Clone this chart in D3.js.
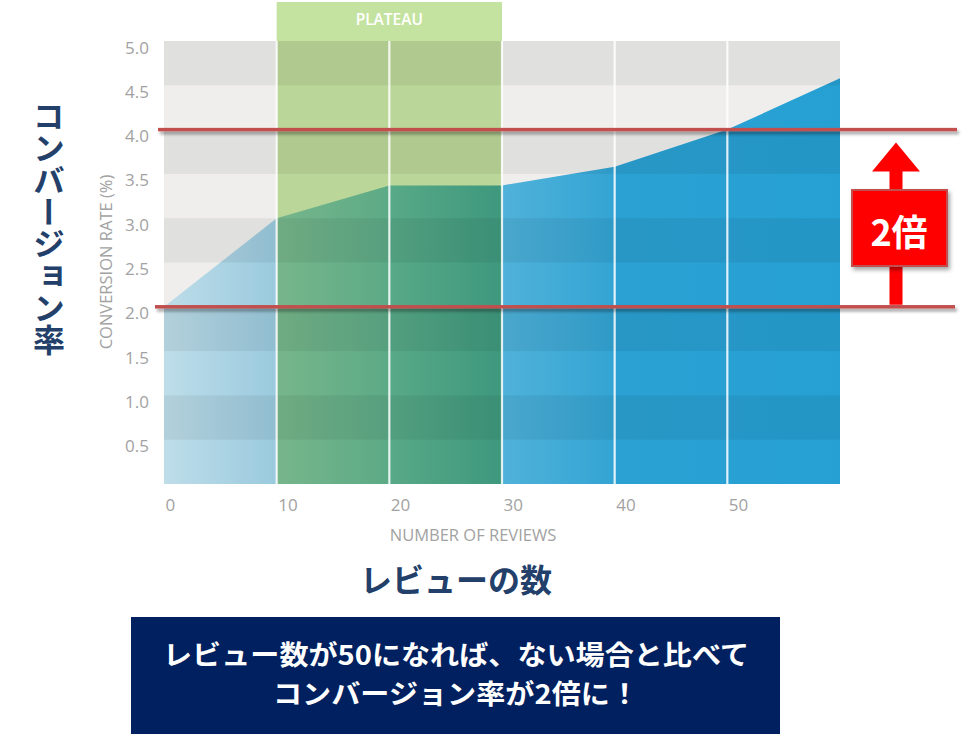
<!DOCTYPE html>
<html>
<head>
<meta charset="utf-8">
<script src="https://cdn.jsdelivr.net/npm/d3@7"></script>
<style>
  html, body { margin: 0; padding: 0; background: #ffffff; }
  svg { display: block; }
</style>
</head>
<body>
<svg id="chart" width="966" height="734"></svg>
<script>
// ---- data ----
const reviewCounts = [0, 10, 20, 30, 40, 50, 60];
const conversionRates = [2.0, 3.0, 3.37, 3.37, 3.58, 4.0, 4.58];
const yTickValues = [0.5, 1.0, 1.5, 2.0, 2.5, 3.0, 3.5, 4.0, 4.5, 5.0];
const xTickValues = [0, 10, 20, 30, 40, 50];
const gridXValues = [10, 20, 30, 40, 50];
const plateauRange = [10, 30];
const referenceRates = [2.0, 4.0];
const darkBands = [[0.5, 1.0], [1.5, 2.0], [2.5, 3.0], [3.5, 4.0], [4.5, 5.0]];
const labels = {
  plateau: "PLATEAU",
  xTitle: "NUMBER OF REVIEWS",
  yTitle: "CONVERSION RATE (%)",
  jpY: "コンバージョン率",
  jpX: "レビューの数",
  badge: "2倍"
};
const noteLines = ["レビュー数が50になれば、ない場合と比べて", "コンバージョン率が2倍に！"];

const svg = d3.select("#chart");
const x = d3.scaleLinear().domain([0, 60]).range([164, 840]);
const y = d3.scaleLinear().domain([0, 5]).range([484, 41]);
const latin = "'Open Sans', 'DejaVu Sans', sans-serif";
const jp = "'Noto Sans CJK JP', 'Noto Sans', sans-serif";

const defs = svg.append("defs");
// area gradient (per-column shading)
const grad = defs.append("linearGradient").attr("id", "areaGrad")
  .attr("gradientUnits", "userSpaceOnUse")
  .attr("x1", x(0)).attr("x2", x(60)).attr("y1", 0).attr("y2", 0);
const off = v => (v / 60);
[
  [0, "#bedde9"], [9.99, "#9acade"],
  [10.01, "#77b68b"], [19.99, "#5caa86"],
  [20.01, "#58a987"], [29.99, "#3e987d"],
  [30.01, "#50b2d9"], [39.99, "#33a4d4"],
  [40.01, "#2ba1d3"], [60, "#26a0d3"]
].forEach(([v, c]) => grad.append("stop").attr("offset", off(v)).attr("stop-color", c));

const shadow = defs.append("filter").attr("id", "shadow")
  .attr("filterUnits", "userSpaceOnUse")
  .attr("x", 0).attr("y", 0).attr("width", 966).attr("height", 734);
shadow.append("feDropShadow").attr("dx", 2).attr("dy", 3).attr("stdDeviation", 1.6)
  .attr("flood-color", "#000").attr("flood-opacity", 0.35);
const shadow2 = defs.append("filter").attr("id", "shadow2")
  .attr("x", "-20%").attr("y", "-20%").attr("width", "150%").attr("height", "150%");
shadow2.append("feDropShadow").attr("dx", 2).attr("dy", 3).attr("stdDeviation", 2)
  .attr("flood-color", "#000").attr("flood-opacity", 0.35);

// plot background
svg.append("rect")
  .attr("x", x(0)).attr("y", y(5)).attr("width", x(60) - x(0)).attr("height", y(0) - y(5))
  .attr("fill", "#efeeec");

// plateau band
svg.append("rect")
  .attr("x", x(plateauRange[0])).attr("y", 2)
  .attr("width", x(plateauRange[1]) - x(plateauRange[0])).attr("height", y(5) - 2)
  .attr("fill", "#c5e3a0");
svg.append("rect")
  .attr("x", x(plateauRange[0])).attr("y", y(5))
  .attr("width", x(plateauRange[1]) - x(plateauRange[0])).attr("height", y(0) - y(5))
  .attr("fill", "#bad698");
svg.append("text")
  .attr("x", (x(plateauRange[0]) + x(plateauRange[1])) / 2).attr("y", 19)
  .attr("text-anchor", "middle").attr("dominant-baseline", "central")
  .attr("font-family", latin).attr("font-size", 15.5).attr("font-weight", 600)
  .attr("fill", "#ffffff").text(labels.plateau);

// area
const pts = reviewCounts.map((r, i) => [r, conversionRates[i]]);
const area = d3.area().x(d => x(d[0])).y0(y(0)).y1(d => y(d[1]));
svg.append("path").datum(pts).attr("d", area).attr("fill", "url(#areaGrad)");

// dark bands overlay
svg.selectAll("rect.band").data(darkBands).join("rect")
  .attr("class", "band")
  .attr("x", x(0)).attr("width", x(60) - x(0))
  .attr("y", d => y(d[1])).attr("height", d => y(d[0]) - y(d[1]))
  .attr("fill", "#000").attr("fill-opacity", 0.06);

// vertical white grid lines
svg.selectAll("line.vgrid").data(gridXValues).join("line")
  .attr("class", "vgrid")
  .attr("x1", d => x(d)).attr("x2", d => x(d))
  .attr("y1", y(5)).attr("y2", y(0))
  .attr("stroke", "#ffffff").attr("stroke-opacity", 0.85).attr("stroke-width", 2.2);
svg.append("line")
  .attr("x1", x(0)).attr("x2", x(60)).attr("y1", y(0) + 0.5).attr("y2", y(0) + 0.5)
  .attr("stroke", "#ffffff").attr("stroke-opacity", 0.6).attr("stroke-width", 1);

// y ticks
svg.selectAll("text.ytick").data(yTickValues).join("text")
  .attr("class", "ytick")
  .attr("x", 149).attr("y", d => y(d) + 6)
  .attr("text-anchor", "end").attr("dominant-baseline", "central")
  .attr("font-family", latin).attr("font-size", 17)
  .attr("fill", "#a2a2a2").text(d => d3.format(".1f")(d));

// x ticks
svg.selectAll("text.xtick").data(xTickValues).join("text")
  .attr("class", "xtick")
  .attr("x", d => x(d) + 1.5).attr("y", 504)
  .attr("text-anchor", "start").attr("dominant-baseline", "central")
  .attr("font-family", latin).attr("font-size", 17)
  .attr("fill", "#a2a2a2").text(d => d);

// axis titles
svg.append("text")
  .attr("x", 473).attr("y", 534)
  .attr("text-anchor", "middle").attr("dominant-baseline", "central")
  .attr("font-family", latin).attr("font-size", 16.5).attr("fill", "#a2a2a2")
  .text(labels.xTitle);
svg.append("text")
  .attr("transform", "translate(105,262) rotate(-90)")
  .attr("text-anchor", "middle").attr("dominant-baseline", "central")
  .attr("font-family", latin).attr("font-size", 16.5).attr("fill", "#a2a2a2")
  .text(labels.yTitle);

// reference lines
const refX = { 2.0: [155, 955], 4.0: [158, 957] };
svg.selectAll("rect.ref").data(referenceRates).join("rect")
  .attr("class", "ref")
  .attr("x", d => refX[d][0]).attr("width", d => refX[d][1] - refX[d][0])
  .attr("y", d => y(d) - 1.75).attr("height", 3.5)
  .attr("fill", "#c0504d")
  .attr("filter", "url(#shadow)");

// arrow
const ax = 896;
const tipY = y(referenceRates[1]) + 13;
const baseY = tipY + 29;
const botY = y(referenceRates[0]) - 2;
svg.append("path")
  .attr("d", `M${ax - 6.5},${botY} L${ax - 6.5},${baseY} L${ax - 24},${baseY} L${ax},${tipY} L${ax + 24},${baseY} L${ax + 6.5},${baseY} L${ax + 6.5},${botY} Z`)
  .attr("fill", "#ff0000");

// badge
svg.append("rect")
  .attr("x", 852).attr("y", 190).attr("width", 95).attr("height", 76)
  .attr("fill", "#ff0000").attr("stroke", "#c0504d").attr("stroke-width", 2)
  .attr("filter", "url(#shadow2)");
svg.append("text")
  .attr("x", 899).attr("y", 230)
  .attr("text-anchor", "middle").attr("dominant-baseline", "central")
  .attr("font-family", jp).attr("font-size", 36).attr("font-weight", 700)
  .attr("fill", "#ffffff").text(labels.badge);

// Japanese axis labels
svg.append("text")
  .attr("x", 49).attr("y", 100)
  .attr("style", "writing-mode: vertical-rl;")
  .attr("text-anchor", "start")
  .attr("font-family", jp).attr("font-size", 32).attr("font-weight", 700)
  .attr("fill", "#23406a").text(labels.jpY);
svg.append("text")
  .attr("x", 456).attr("y", 578)
  .attr("text-anchor", "middle").attr("dominant-baseline", "central")
  .attr("font-family", jp).attr("font-size", 32).attr("font-weight", 700)
  .attr("fill", "#23406a").text(labels.jpX);

// bottom note box
svg.append("rect")
  .attr("x", 131).attr("y", 617).attr("width", 649).attr("height", 117)
  .attr("fill", "#002060");
const noteWidths = [586, 366];
svg.selectAll("text.note").data(noteLines).join("text")
  .attr("class", "note")
  .attr("x", (d, i) => 456 - noteWidths[i] / 2)
  .attr("y", (d, i) => 664.5 + i * 39.5)
  .attr("textLength", (d, i) => noteWidths[i])
  .attr("lengthAdjust", "spacingAndGlyphs")
  .attr("font-family", jp).attr("font-size", 27).attr("font-weight", 700)
  .attr("fill", "#ffffff")
  .text(d => d);
</script>
</body>
</html>
